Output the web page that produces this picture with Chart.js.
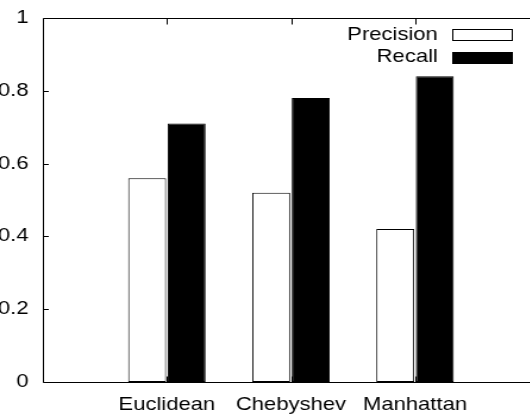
<!DOCTYPE html>
<html>
<head>
<meta charset="utf-8">
<script src="https://cdn.jsdelivr.net/npm/chart.js@4/dist/chart.umd.min.js"></script>
<style>
  html, body { margin: 0; padding: 0; background: #fff; overflow: hidden; width: 530px; height: 417px; }
  /* the plot is drawn narrow and widened horizontally, like the stretched original figure */
  #wrap { position: absolute; left: 0; top: 0; width: 460px; height: 417px; transform: scaleX(1.19); transform-origin: 0 0; }
  canvas { display: block; }
</style>
</head>
<body>
<div id="wrap"><canvas id="c" width="460" height="417" style="width:460px;height:417px"></canvas></div>
<script>
const categories = ['Euclidean', 'Chebyshev', 'Manhattan'];
const precision = [0.56, 0.52, 0.42];
const recall = [0.71, 0.78, 0.84];
const yTicks = [0, 0.2, 0.4, 0.6, 0.8, 1];

const FONT = { family: '"Liberation Sans", Arial, Helvetica, sans-serif', size: 18.5 };

// Border on all four sides with inward tick marks, gnuplot style
const framePlugin = {
  id: 'frame',
  afterDatasetsDraw(chart) {
    const { ctx, chartArea: a, scales: { x, y } } = chart;
    const l = Math.round(a.left) + 0.5, r = Math.round(a.right) + 0.5;
    const t = Math.round(a.top) + 0.5, b = Math.round(a.bottom) + 0.5;
    ctx.save();
    ctx.strokeStyle = '#000';
    ctx.lineWidth = 1;
    ctx.beginPath();
    ctx.rect(l, t, r - l, b - t);
    y.ticks.forEach(tk => {
      const py = Math.round(y.getPixelForValue(tk.value)) + 0.5;
      ctx.moveTo(l, py); ctx.lineTo(l + 4.5, py);
      ctx.moveTo(r, py); ctx.lineTo(r - 4.5, py);
    });
    categories.forEach((c, i) => {
      const px = Math.round(x.getPixelForValue(i)) + 0.5;
      ctx.moveTo(px, b); ctx.lineTo(px, b - 6);
      ctx.moveTo(px, t); ctx.lineTo(px, t + 6);
    });
    ctx.stroke();
    ctx.restore();
  }
};

// Key in the top-right corner: label on the left, sample box on the right
const keyPlugin = {
  id: 'key',
  afterDraw(chart) {
    const { ctx, chartArea: a } = chart;
    ctx.save();
    ctx.font = `${FONT.size}px ${FONT.family}`;
    ctx.textAlign = 'right';
    ctx.textBaseline = 'middle';
    chart.data.datasets.forEach((ds, i) => {
      const cy = a.top + 16.5 + i * 22.5;
      const bx1 = Math.round(a.right - 73) + 0.5;
      const bx2 = Math.round(a.right - 23) + 0.5;
      const by1 = Math.round(cy - 5.5) + 0.5;
      const by2 = by1 + 11;
      ctx.fillStyle = '#000';
      ctx.fillText(ds.label, bx1 - 12.6, cy);
      ctx.fillStyle = ds.backgroundColor;
      ctx.fillRect(bx1, by1, bx2 - bx1, by2 - by1);
      ctx.strokeStyle = ds.borderColor;
      ctx.lineWidth = 1;
      ctx.strokeRect(bx1, by1, bx2 - bx1, by2 - by1);
    });
    ctx.restore();
  }
};

const noScalePadding = s => {
  s.paddingTop = 0; s.paddingBottom = 0; s.paddingLeft = 0; s.paddingRight = 0;
};

new Chart(document.getElementById('c'), {
  type: 'bar',
  data: {
    datasets: [
      {
        label: 'Precision',
        data: categories.map((c, i) => ({ x: i, y: precision[i] })),
        backgroundColor: '#ffffff',
        borderColor: '#000000',
        borderWidth: 1,
        borderSkipped: false
      },
      {
        label: 'Recall',
        data: categories.map((c, i) => ({ x: i, y: recall[i] })),
        backgroundColor: '#000000',
        borderColor: '#000000',
        borderWidth: 1,
        borderSkipped: false
      }
    ]
  },
  options: {
    responsive: false,
    animation: false,
    devicePixelRatio: 1,
    categoryPercentage: 0.637,
    barPercentage: 0.96,
    layout: { padding: { left: 0, right: 7, top: 18, bottom: 0 } },
    plugins: { legend: { display: false }, tooltip: { enabled: false } },
    scales: {
      x: {
        type: 'linear',
        min: -1,
        max: 3,
        offset: false,
        grid: { display: false, drawTicks: false },
        border: { display: false },
        afterBuildTicks: s => { s.ticks = [-1, 0, 1, 2, 3].map(v => ({ value: v })); },
        afterFit: s => { s.height = 35; noScalePadding(s); },
        ticks: {
          autoSkip: false,
          maxRotation: 0,
          padding: 12,
          color: '#000',
          font: FONT,
          callback: v => categories[v] ?? ''
        }
      },
      y: {
        min: 0,
        max: 1,
        grid: { display: false, drawTicks: false },
        border: { display: false },
        afterBuildTicks: s => { s.ticks = yTicks.map(v => ({ value: v })); },
        afterFit: s => { s.width = 36; noScalePadding(s); },
        ticks: {
          padding: 12,
          color: '#000',
          font: FONT,
          callback: v => String(v)
        }
      }
    }
  },
  plugins: [framePlugin, keyPlugin]
});
</script>
</body>
</html>
